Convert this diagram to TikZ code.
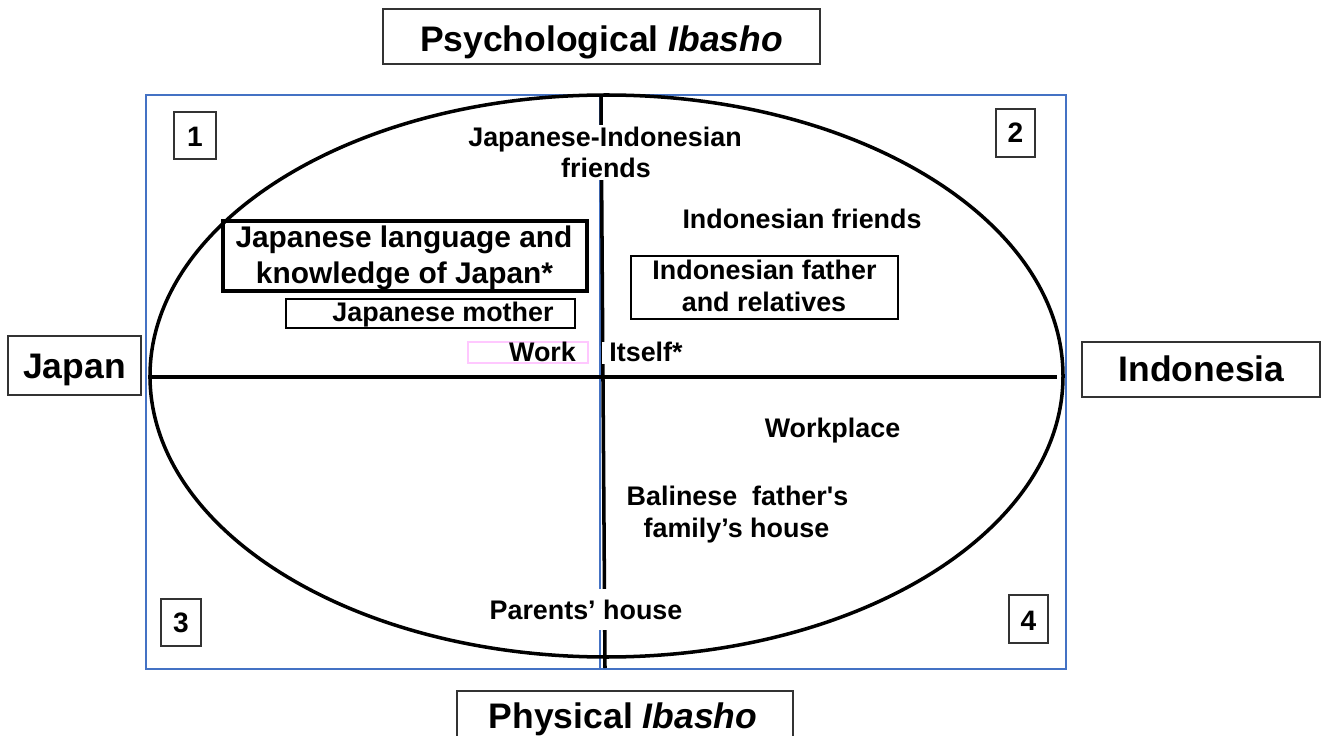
\documentclass[tikz,border=0pt]{standalone}
\usepackage{fontspec}
\setmainfont{Liberation Sans}[Ligatures=TeXOff]
\usetikzlibrary{fit}
\definecolor{frameblue}{HTML}{4472C4}
\definecolor{pinkline}{HTML}{FFC8FF}
\begin{document}
\begin{tikzpicture}[x=0.02cm,y=-0.02cm,
  lbl/.style={font=\bfseries\fontsize{15.3pt}{18pt}\selectfont, inner sep=0pt, anchor=base},
  lblbig/.style={font=\bfseries\fontsize{17pt}{20pt}\selectfont, inner sep=0pt, anchor=base},
  big/.style={font=\bfseries\fontsize{20.2pt}{24pt}\selectfont, inner sep=0pt, anchor=base},
  num/.style={font=\bfseries\fontsize{16pt}{19pt}\selectfont, inner sep=0pt, anchor=base},
  frame/.style={draw=black!80, line width=0.85pt, inner sep=0pt},
  medframe/.style={draw=black, line width=1.2pt, inner sep=0pt},
  thickframe/.style={draw=black, line width=2.3pt, inner sep=0pt},
  whitebg/.style={fill=white, inner sep=0pt},
  pinkbox/.style={draw=pinkline, line width=0.6pt, inner sep=0pt},
  blueline/.style={draw=frameblue, line width=0.8pt},
  axis/.style={draw=black, line width=2pt}
]
\clip (0,0) rectangle (1322,736);
% blue frames
\draw[blueline] (146,95) rectangle (1066,669);
\coordinate (bt) at (600,95);
\coordinate (bb) at (600,669);
\draw[blueline] (bt) -- (bb);
% ellipse and axes
\draw[axis] (606.5,376) ellipse [x radius=456.5, y radius=281];
\coordinate (vt) at (601,95);
\coordinate (vb) at (605,668);
\coordinate (hl) at (148,377);
\coordinate (hr) at (1057,377);
\draw[axis] (vt) -- (vb);
\draw[axis] (hl) -- (hr);
% white backgrounds hiding the axes
\node[whitebg, fit={(457,125) (757,180)}] (jibg) {};
\node[whitebg, fit={(601.6,342) (700,364)}] (itbg) {};
\node[whitebg, fit={(480,589) (719,630)}] (phbg) {};
% outer labels
\node[frame, fit={(383,9) (820,64)}] (titlebox) {};
\node[big] (title) at (601.5,52) {Psychological \textit{Ibasho}};
\node[frame, fit={(8,336) (141,395)}] (japanbox) {};
\node[big] (japan) at (74.5,379) {Japan};
\node[frame, fit={(1082,342) (1320,397)}] (indobox) {};
\node[big] (indonesia) at (1201.5,382) {Indonesia};
\node[frame, fit={(457,691) (793,760)}] (physbox) {};
\node[big] (physical) at (623,728) {Physical \textit{Ibasho}};
% quadrant numbers
\node[frame, fit={(174,112) (216,159)}] (n1box) {};
\node[num] (n1) at (195,147) {1};
\node[frame, fit={(996,109) (1035,157)}] (n2box) {};
\node[num] (n2) at (1015.5,143) {2};
\node[frame, fit={(161,599) (201,646)}] (n3box) {};
\node[num] (n3) at (181,632) {3};
\node[frame, fit={(1009,595) (1048,643)}] (n4box) {};
\node[num] (n4) at (1028.5,630) {4};
% quadrant 1
\node[thickframe, fit={(223,221) (587,291)}] (jlbox) {};
\node[lblbig] (jl1) at (404,248) {Japanese language and};
\node[lblbig] (jl2) at (404.5,284) {knowledge of Japan*};
\node[medframe, fit={(286,299) (575,328)}] (jmbox) {};
\node[lbl] (jm) at (443,322) {Japanese mother};
\node[pinkbox, fit={(468,342) (588,363)}] (workbox) {};
\node[lbl] (work) at (542.5,362) {Work};
% centre / quadrant 2
\node[lbl] (ji1) at (605,147) {Japanese-Indonesian};
\node[lbl] (ji2) at (606,178) {friends};
\node[lbl] (ifr) at (802,229) {Indonesian friends};
\node[medframe, fit={(631,256) (898,319)}] (ifabox) {};
\node[lbl] (ifa1) at (764.5,280) {Indonesian father};
\node[lbl] (ifa2) at (764,312) {and relatives};
\node[lbl] (itself) at (646,362) {Itself*};
% quadrant 4
\node[lbl] (workplace) at (832.5,438) {Workplace};
\node[lbl] (bal1) at (737.5,505) {Balinese\ \ father's};
\node[lbl] (bal2) at (736.5,537) {family’s house};
\node[lbl] (parents) at (586,619) {Parents’ house};
\end{tikzpicture}
\end{document}
